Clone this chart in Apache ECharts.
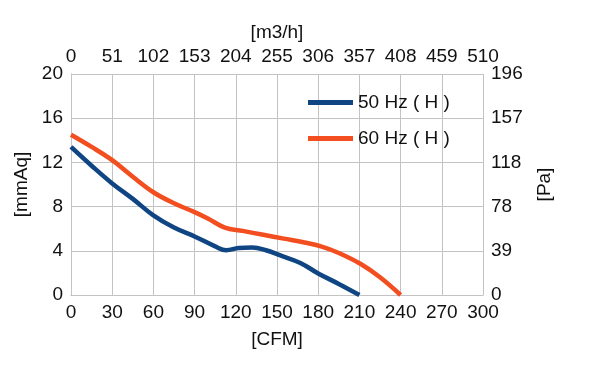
<!DOCTYPE html>
<html>
<head>
<meta charset="utf-8">
<script src="https://cdn.jsdelivr.net/npm/echarts@6/dist/echarts.min.js"></script>
<style>html,body{margin:0;padding:0;background:#fff;}#c{width:600px;height:379px;}</style>
</head>
<body>
<div id="c"></div>
<script>
var seriesNames = ['50 Hz ( H )', '60 Hz ( H )'];
var hz50 = [[0,13.4],[15,11.7],[30,10.1],[45,8.7],[60,7.2],[75,6.1],[90,5.3],[105,4.4],[113,4.05],[122,4.25],[132,4.3],[142,4.05],[152,3.6],[167,2.9],[180,1.95],[195,1.0],[210,0]];
var hz60 = [[0,14.5],[15,13.4],[30,12.2],[45,10.7],[60,9.3],[75,8.3],[90,7.5],[100,6.9],[112,6.1],[125,5.8],[140,5.45],[155,5.1],[170,4.75],[182,4.4],[195,3.8],[211,2.8],[225,1.6],[240,0]];
var topTicks = ['0','51','102','153','204','255','306','357','408','459','510'];
var rightTicks = ['0','39','78','118','157','196'];

var font = 'Liberation Sans, Arial, sans-serif';
var fs = 19;
var chart = echarts.init(document.getElementById('c'));
var gridColor = '#c3c3c3';
chart.setOption({
  animation: false,
  backgroundColor: '#fff',
  grid: {left: 71, right: 117, top: 74, bottom: 84},
  legend: {
    orient: 'vertical', left: 303, top: 88, itemGap: 17,
    itemWidth: 45, itemHeight: 5, icon: 'rect',
    textStyle: {fontFamily: font, fontSize: fs, color: '#111', padding: [0,0,0,0]},
    data: seriesNames
  },
  xAxis: [{
    type: 'value', position: 'bottom', min: 0, max: 300, interval: 30,
    name: '[CFM]', nameLocation: 'middle', nameGap: 35,
    nameTextStyle: {fontFamily: font, fontSize: fs, color: '#111'},
    axisLine: {show: true, lineStyle: {color: gridColor, width: 1}},
    axisTick: {show: false},
    axisLabel: {fontFamily: font, fontSize: fs, color: '#111', margin: 8},
    splitLine: {show: true, lineStyle: {color: gridColor, width: 1}}
  }, {
    type: 'value', position: 'top', min: 0, max: 10, interval: 1,
    name: '[m3/h]', nameLocation: 'middle', nameGap: 30,
    nameTextStyle: {fontFamily: font, fontSize: fs, color: '#111'},
    axisLine: {show: true, lineStyle: {color: gridColor, width: 1}},
    axisTick: {show: false},
    axisLabel: {fontFamily: font, fontSize: fs, color: '#111', margin: 8,
      formatter: function (v) { return topTicks[Math.round(v)]; }},
    splitLine: {show: false}
  }],
  yAxis: [{
    type: 'value', position: 'left', min: 0, max: 20, interval: 4,
    name: '[mmAq]', nameLocation: 'middle', nameGap: 37,
    nameTextStyle: {fontFamily: font, fontSize: fs, color: '#111'},
    axisLine: {show: true, lineStyle: {color: gridColor, width: 1}},
    axisTick: {show: false},
    axisLabel: {fontFamily: font, fontSize: fs, color: '#111', margin: 8},
    splitLine: {show: true, lineStyle: {color: gridColor, width: 1}}
  }, {
    type: 'value', position: 'right', min: 0, max: 5, interval: 1,
    name: '[Pa]', nameLocation: 'middle', nameGap: 52, nameRotate: 90,
    nameTextStyle: {fontFamily: font, fontSize: fs, color: '#111'},
    axisLine: {show: true, lineStyle: {color: gridColor, width: 1}},
    axisTick: {show: false},
    axisLabel: {fontFamily: font, fontSize: fs, color: '#111', margin: 8,
      formatter: function (v) { return rightTicks[Math.round(v)]; }},
    splitLine: {show: false}
  }],
  series: [{
    name: seriesNames[0], type: 'line', xAxisIndex: 0, yAxisIndex: 0,
    data: hz50, smooth: 0.4, symbol: 'none',
    lineStyle: {color: '#0f4583', width: 4.5}, itemStyle: {color: '#0f4583'}
  }, {
    name: seriesNames[1], type: 'line', xAxisIndex: 0, yAxisIndex: 0,
    data: hz60, smooth: 0.4, symbol: 'none',
    lineStyle: {color: '#f24e1f', width: 4.5}, itemStyle: {color: '#f24e1f'}
  }]
});
</script>
</body>
</html>
